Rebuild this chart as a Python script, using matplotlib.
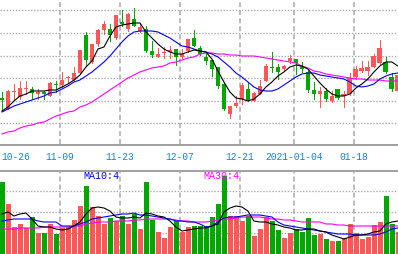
import matplotlib
matplotlib.use('Agg')
import matplotlib.pyplot as plt
import numpy as np

plt.rcParams['lines.scale_dashes'] = False

# daily candles (arbitrary price units), 67 trading days
opens = [46, 35, 52, 47, 55, 55, 50, 52, 48, 60, 59, 66, 64, 71, 109, 82, 100,
         114, 115, 106, 122, 115, 125, 113, 115, 93, 87, 91, 92, 95, 87, 93, 106,
         96, 87, 84, 77, 60, 30, 38, 45, 55, 43, 50, 63, 77, 77, 75, 83, 85,
         78, 72, 54, 50, 53, 43, 55, 48, 50, 67, 73, 73, 77, 81, 82, 67, 53]
closes = [44, 53, 53, 56, 56, 51, 52, 50, 61, 59, 64, 67, 71, 94, 84, 100, 114,
          120, 109, 129, 120, 130, 118, 117, 93, 89, 90, 92, 94, 87, 90, 105, 98,
          90, 83, 75, 58, 35, 38, 41, 59, 43, 51, 58, 78, 76, 72, 78, 86, 81,
          75, 54, 50, 53, 45, 48, 46, 50, 66, 75, 76, 77, 88, 96, 72, 55, 69]
highs = [52, 54, 60, 63, 63, 57, 55, 53, 62, 63, 72, 68, 77, 94, 112, 100, 115,
         123, 120, 129, 134, 131, 136, 120, 118, 103, 96, 97, 98, 95, 95, 105, 114,
         98, 90, 84, 77, 61, 38, 48, 61, 62, 52, 64, 80, 92, 80, 79, 89, 85,
         82, 75, 62, 57, 56, 53, 55, 53, 71, 78, 83, 83, 90, 104, 87, 71, 71]
lows = [33, 35, 45, 45, 50, 45, 45, 45, 48, 52, 57, 62, 63, 70, 78, 81, 98,
        110, 103, 105, 118, 113, 118, 112, 92, 87, 87, 86, 86, 79, 86, 92, 98,
        89, 80, 68, 56, 34, 26, 37, 40, 43, 43, 50, 63, 72, 65, 74, 81, 70,
        72, 52, 45, 37, 43, 42, 45, 37, 49, 65, 72, 69, 77, 80, 71, 53, 53]

ma5 = [33, 37, 43, 48, 50, 53, 53, 53, 54, 54, 57, 60, 64, 69, 77, 83, 95,
       97, 108, 117, 119, 120, 121, 121, 112, 106, 100, 95, 92, 90, 90, 92, 94,
       93, 92, 85, 73, 62, 52, 46, 45, 43, 45, 50, 57, 62, 68, 72, 77, 79,
       78, 75, 68, 61, 55, 50, 48, 48, 50, 56, 60, 65, 72, 78, 82, 82, 78]
ma10 = [32, 35, 38, 40, 42, 44, 46, 48, 51, 52, 55, 58, 62, 64, 68, 72, 77,
        82, 88, 95, 102, 108, 112, 113, 113, 113, 112, 109, 106, 102, 98, 97, 95,
        93, 92, 90, 87, 82, 77, 71, 67, 62, 57, 54, 53, 53, 55, 59, 63, 67,
        70, 71, 71, 69, 68, 67, 66, 65, 62, 58, 57, 58, 60, 65, 68, 70, 71]
ma30 = [10, 12, 13, 16, 18, 19, 21, 22, 25, 28, 30, 32, 33, 37, 39, 42, 46,
        50, 54, 58, 62, 66, 69, 72, 74, 76, 77, 78, 81, 82, 84, 86, 87,
        90, 91, 91, 90, 90, 89, 89, 88, 88, 88, 87, 86, 85, 84, 83, 82, 81,
        78, 76, 73, 72, 70, 69, 68, 67, 66, 65, 65, 64, 64, 64, 63, 63, 63]

volume = [72, 50, 27, 30, 26, 37, 21, 21, 30, 20, 26, 27, 34, 48, 68, 47, 38,
          30, 36, 33, 38, 30, 40, 25, 72, 34, 22, 16, 27, 33, 22, 27, 28,
          28, 28, 37, 50, 78, 38, 38, 33, 38, 18, 25, 37, 33, 24, 16, 21, 25,
          22, 36, 19, 20, 15, 13, 13, 16, 30, 21, 15, 17, 29, 32, 58, 30, 22]
vol_ma5 = [40, 42, 38, 40, 41, 35, 28, 27, 27, 25, 24, 25, 28, 32, 40, 46, 47,
           46, 43, 37, 36, 36, 37, 36, 41, 40, 38, 37, 33, 27, 23, 24, 25,
           26, 26, 28, 30, 42, 46, 48, 47, 43, 33, 32, 32, 30, 29, 27, 26, 24,
           24, 25, 25, 23, 22, 19, 17, 15, 17, 19, 19, 20, 22, 23, 30, 32, 33]
vol_ma10 = [33, 34, 35, 35, 35, 35, 33, 32, 32, 32, 28, 28, 28, 30, 32, 35, 36,
            37, 38, 39, 40, 40, 41, 39, 39, 38, 37, 36, 35, 33, 33, 32, 32,
            30, 27, 28, 32, 36, 37, 37, 38, 39, 39, 39, 38, 37, 32, 29, 28, 27,
            26, 25, 24, 23, 22, 21, 20, 20, 20, 19, 19, 19, 19, 20, 22, 25, 26]
vol_ma30 = [25, 25, 25, 26, 26, 26, 26, 27, 27, 27, 27, 27, 28, 28, 30, 31, 32,
            32, 32, 33, 33, 33, 34, 34, 35, 35, 35, 35, 35, 34, 33, 33, 32,
            32, 32, 33, 34, 35, 35, 36, 37, 37, 37, 37, 36, 35, 35, 34, 34, 33,
            32, 32, 32, 32, 30, 30, 29, 29, 28, 28, 28, 28, 28, 28, 28, 28, 28]

date_labels = ['10-26', '11-09', '11-23', '12-07', '12-21', '2021-01-04', '01-18']
date_index = [0, 10, 20, 30, 40, 49, 59]

RED = '#ff5757'
GREEN = '#00a800'
GRID = '#a8a8a8'
W, H = 398, 255
PX = 0.72  # one pixel in points

o = np.array(opens)
c = np.array(closes)
x = np.arange(len(o))
up = c >= o
cols = np.where(up, RED, GREEN)

fig = plt.figure(figsize=(W / 100, H / 100), dpi=100)
fig.patch.set_facecolor('white')

def frac(top, bot):
    return [0, (H - bot) / H, 1, (bot - top) / H]

ax = fig.add_axes(frac(0, 145))
strip = fig.add_axes(frac(144, 173))
axv = fig.add_axes(frac(172, 255))

xlim = (-1 / 3, len(x) - 1 + 0.02)
for a in (ax, strip, axv):
    a.set_xlim(*xlim)
    a.set_axis_off()

vx = [i - 0.35 for i in date_index[1:]]
dots = (0, (1.0, 1.2))
dash = (0, (3.6, 2.2))
LW = 0.8

# main panel
ax.set_ylim(0, 145)
for g in [134, 111.5, 88.5, 66, 43.5, 21]:
    ax.axhline(g, color=GRID, lw=PX * 1.3, ls=dots, zorder=0)
for v in vx:
    ax.axvline(v, color=GRID, lw=PX * 1.5, ls=dash, zorder=0)
ax.vlines(x, lows, highs, colors=cols, lw=PX, antialiased=False, zorder=2)
body_h = np.maximum(np.abs(c - o), 1)
ax.bar(x, body_h, bottom=np.minimum(o, c), width=0.8, color=cols,
       linewidth=0, zorder=3)
ax.plot(x, ma30, color='#ff00ff', lw=LW, zorder=4)
ax.plot(x, ma10, color='#0000ff', lw=LW, zorder=4)
ax.plot(x, ma5, color='black', lw=LW, zorder=5)

# date strip
strip.set_ylim(173, 144)
strip.axhline(145.7, color='#a0a0a0', lw=1.4)
strip.axhline(171.5, color='#a0a0a0', lw=1.4)
for lab, i in zip(date_labels, date_index):
    if i == 0:
        strip.text(xlim[0] + 0.15, 157, lab, ha='left', va='center',
                   fontsize=6.9, family='Liberation Mono', color='#1582d2')
    else:
        strip.text(i - 0.35, 157, lab, ha='center', va='center',
                   fontsize=6.9, family='Liberation Mono', color='#1582d2')

# volume panel
axv.set_ylim(0, 83)
for g in [63, 42, 21]:
    axv.axhline(g, color=GRID, lw=PX * 1.3, ls=dots, zorder=0)
for v in vx:
    axv.axvline(v, color=GRID, lw=PX * 1.5, ls=dash, zorder=0)
axv.bar(x + 0.08, volume, width=0.84, color=cols, linewidth=0, zorder=2)
axv.plot(x, vol_ma30, color='#ff00ff', lw=LW, zorder=4)
axv.plot(x, vol_ma10, color='#0000ff', lw=LW, zorder=4)
axv.plot(x, vol_ma5, color='black', lw=LW, zorder=5)
axv.text(13.5, 78.5, 'MA10:4', ha='left', va='center', fontsize=7.2,
         family='Liberation Mono', color='#0000ff', zorder=6)
axv.text(33.5, 78.5, 'MA30:4', ha='left', va='center', fontsize=7.2,
         family='Liberation Mono', color='#ff00ff', zorder=6)

fig.savefig('out.png', dpi=100, facecolor='white')
